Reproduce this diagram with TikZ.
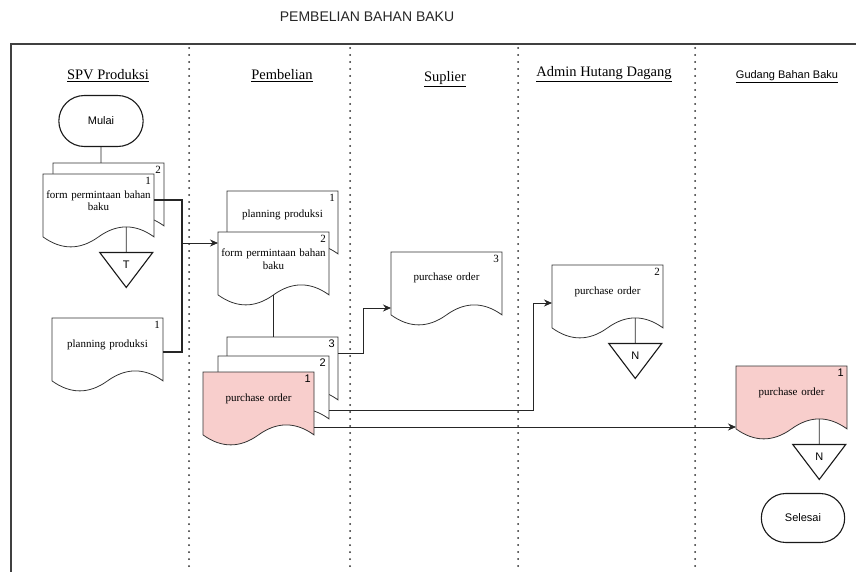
\documentclass[tikz,border=0pt]{standalone}
\usepackage{fontspec}
\setmainfont{Liberation Serif}
\setsansfont{Liberation Sans}
\usetikzlibrary{shapes.geometric, shapes.misc, arrows.meta, positioning, calc}

\definecolor{docpink}{HTML}{F8CECC}

% document symbol: flat top, wavy bottom
\makeatletter
\pgfdeclareshape{docshape}{%
  \inheritsavedanchors[from=rectangle]%
  \inheritanchorborder[from=rectangle]%
  \inheritanchor[from=rectangle]{center}%
  \inheritanchor[from=rectangle]{text}%
  \inheritanchor[from=rectangle]{base}%
  \inheritanchor[from=rectangle]{north}%
  \inheritanchor[from=rectangle]{south}%
  \inheritanchor[from=rectangle]{east}%
  \inheritanchor[from=rectangle]{west}%
  \inheritanchor[from=rectangle]{north east}%
  \inheritanchor[from=rectangle]{north west}%
  \inheritanchor[from=rectangle]{south east}%
  \inheritanchor[from=rectangle]{south west}%
  \anchor{tail}{%
    \southwest \pgf@xa=\pgf@x \pgf@ya=\pgf@y
    \northeast
    \pgf@x=0.75\pgf@x \advance\pgf@x by 0.25\pgf@xa
    \pgf@y=0.285\pgf@y \advance\pgf@y by 0.715\pgf@ya
  }%
  \anchor{wave}{%
    \southwest \pgf@xa=\pgf@x \pgf@ya=\pgf@y
    \northeast
    \pgf@x=0.5\pgf@x \advance\pgf@x by 0.5\pgf@xa
    \pgf@y=0.15\pgf@y \advance\pgf@y by 0.85\pgf@ya
  }%
  \backgroundpath{%
    \southwest \edef\docxa{\the\pgf@x}\edef\docya{\the\pgf@y}%
    \northeast \edef\docxb{\the\pgf@x}\edef\docyb{\the\pgf@y}%
    \pgfmathsetlengthmacro\docdy{0.3*(\docyb-\docya)}%
    \pgfmathsetlengthmacro\docw{\docxb-\docxa}%
    \pgfpathmoveto{\pgfpoint{\docxa}{\docyb}}%
    \pgfpathlineto{\pgfpoint{\docxb}{\docyb}}%
    \pgfpathlineto{\pgfpoint{\docxb}{\docya+0.5*\docdy}}%
    \pgfpathquadraticcurveto{\pgfpoint{\docxa+0.75*\docw}{\docya+1.4*\docdy}}{\pgfpoint{\docxa+0.5*\docw}{\docya+0.5*\docdy}}%
    \pgfpathquadraticcurveto{\pgfpoint{\docxa+0.25*\docw}{\docya-0.4*\docdy}}{\pgfpoint{\docxa}{\docya+0.5*\docdy}}%
    \pgfpathclose
  }%
}
\makeatother

\tikzset{
    doc_box/.style={
        docshape, draw=black!80, line width=0.8pt, fill=white,
        outer sep=0pt, inner sep=0pt, anchor=north west,
        minimum width=111pt, minimum height=74pt, text width=108pt, align=center,
        text height=29pt, text depth=45pt, font=\fontsize{11}{13}\selectfont
    },
    doc_two/.style={text height=24pt, text depth=50pt},
    doc_pink/.style={doc_box, fill=docpink},
    num_lbl/.style={anchor=north east, inner sep=3pt, font=\fontsize{11}{12}\selectfont},
    num_lbl_sf/.style={num_lbl, font=\sffamily\fontsize{11}{12}\selectfont},
    term_box/.style={
        rounded rectangle, draw=black!90, line width=1.1pt, fill=white,
        minimum width=91pt, minimum height=51pt, font=\sffamily\fontsize{11}{13}\selectfont
    },
    off_page/.style={
        isosceles triangle, isosceles triangle stretches, shape border rotate=270,
        draw=black!90, line width=1.1pt, fill=white, inner sep=0pt,
        minimum width=53pt, minimum height=35pt, font=\sffamily\fontsize{11}{13}\selectfont
    },
    lane_head/.style={font=\fontsize{14.5}{17}\selectfont},
    lane_sep/.style={line width=2pt, dash pattern=on 0pt off 7pt, line cap=round, draw=black!85},
    frame_line/.style={line width=1.1pt, draw=black!75},
    flow_line/.style={line width=0.8pt, draw=black!85},
    flow_arrow/.style={flow_line, -{Stealth[length=8pt, width=7pt]}},
    thick_line/.style={line width=1.7pt, draw=black!85}
}

\begin{document}
\begin{tikzpicture}[x=1pt, y=-1pt]

    \useasboundingbox (0,0) rectangle (856,572);

    \node[font=\sffamily\fontsize{14}{16}\selectfont, text=black!85] (title) at (367,17) {PEMBELIAN BAHAN BAKU};

    % swimlanes
    \draw[frame_line] (856,44) -- (11,44) -- (11,572);
    \draw[lane_sep] (189,48) -- (189,572);
    \draw[lane_sep] (350,48) -- (350,572);
    \draw[lane_sep] (518,48) -- (518,572);
    \draw[lane_sep] (695,48) -- (695,572);

    \node[lane_head] (hspv) at (108,76) {\underline{SPV Produksi}};
    \node[lane_head] (hbeli) at (282,76) {\underline{Pembelian}};
    \node[lane_head] (hsup) at (445,79) {\underline{Suplier}};
    \node[lane_head] (hadm) at (604,74) {\underline{Admin Hutang Dagang}};
    \node[font=\sffamily\fontsize{11}{13}\selectfont] (hgud) at (787,77) {\underline{Gudang Bahan Baku}};

    % SPV Produksi
    \node[term_box] (mulai) at (101,121) {Mulai};
    \node[doc_box, label={[num_lbl]north east:2}] (spvform2) at (53,163) {};
    \node[doc_box, doc_two, label={[num_lbl]north east:1}] (spvform1) at (43,174) {form permintaan bahan\\baku};
    \node[off_page, below=25pt of spvform1.tail] (offT) {T};
    \node[doc_box, label={[num_lbl]north east:1}] (spvplan) at (52,318) {planning produksi};

    % Pembelian
    \node[doc_box, text height=27pt, text depth=47pt, label={[num_lbl]north east:1}] (pbplan) at (227,191) {planning produksi};
    \node[doc_box, doc_two, label={[num_lbl]north east:2}] (pbform) at (218,232) {form permintaan bahan\\baku};
    \node[doc_box, label={[num_lbl_sf]north east:3}] (po3) at (227,337) {};
    \node[doc_box, label={[num_lbl_sf]north east:2}] (po2) at (218,356) {};
    \node[doc_pink, label={[num_lbl_sf]north east:1}] (po1) at (203,372) {purchase order};

    % Suplier
    \node[doc_box, text height=28pt, text depth=46pt, label={[num_lbl]north east:3}] (supPO) at (391,252) {purchase order};

    % Admin Hutang Dagang
    \node[doc_box, label={[num_lbl]north east:2}] (admPO) at (552,265) {purchase order};
    \node[off_page, below=25pt of admPO.tail] (offN1) {N};

    % Gudang Bahan Baku
    \node[doc_pink, label={[num_lbl_sf]north east:1}] (gudPO) at (736,366) {purchase order};
    \node[off_page, below=25pt of gudPO.tail] (offN2) {N};
    \node[term_box, minimum width=90pt, minimum height=49pt] (selesai) at (803,518) {Selesai};

    % connectors
    \draw[flow_line] (mulai) -- (mulai |- spvform2.north);
    \draw[flow_line] (spvform1.tail) -- (offT);
    \coordinate (join) at (182,243);
    \draw[thick_line] ($(spvform1.north east)+(0,26)$) -| (join);
    \draw[thick_line] ($(spvplan.north east)+(0,34)$) -| (join);
    \draw[flow_arrow] (join) -- (join -| pbform.west);
    \draw[flow_line] (pbform.wave) -- (po3.north -| pbform.wave);
    \draw[flow_arrow] ($(po3.north east)+(0,16)$) -- ++(25,0) |- ($(supPO.north west)+(0,56)$);
    \draw[flow_arrow] ($(po2.north east)+(0,54)$) -- ++(204,0) |- ($(admPO.north west)+(0,38)$);
    \draw[flow_arrow] ($(po1.north east)+(0,55)$) -- ($(gudPO.north west)+(0,61)$);
    \draw[flow_line] (admPO.tail) -- (offN1);
    \draw[flow_line] (gudPO.tail) -- (offN2);

\end{tikzpicture}
\end{document}
